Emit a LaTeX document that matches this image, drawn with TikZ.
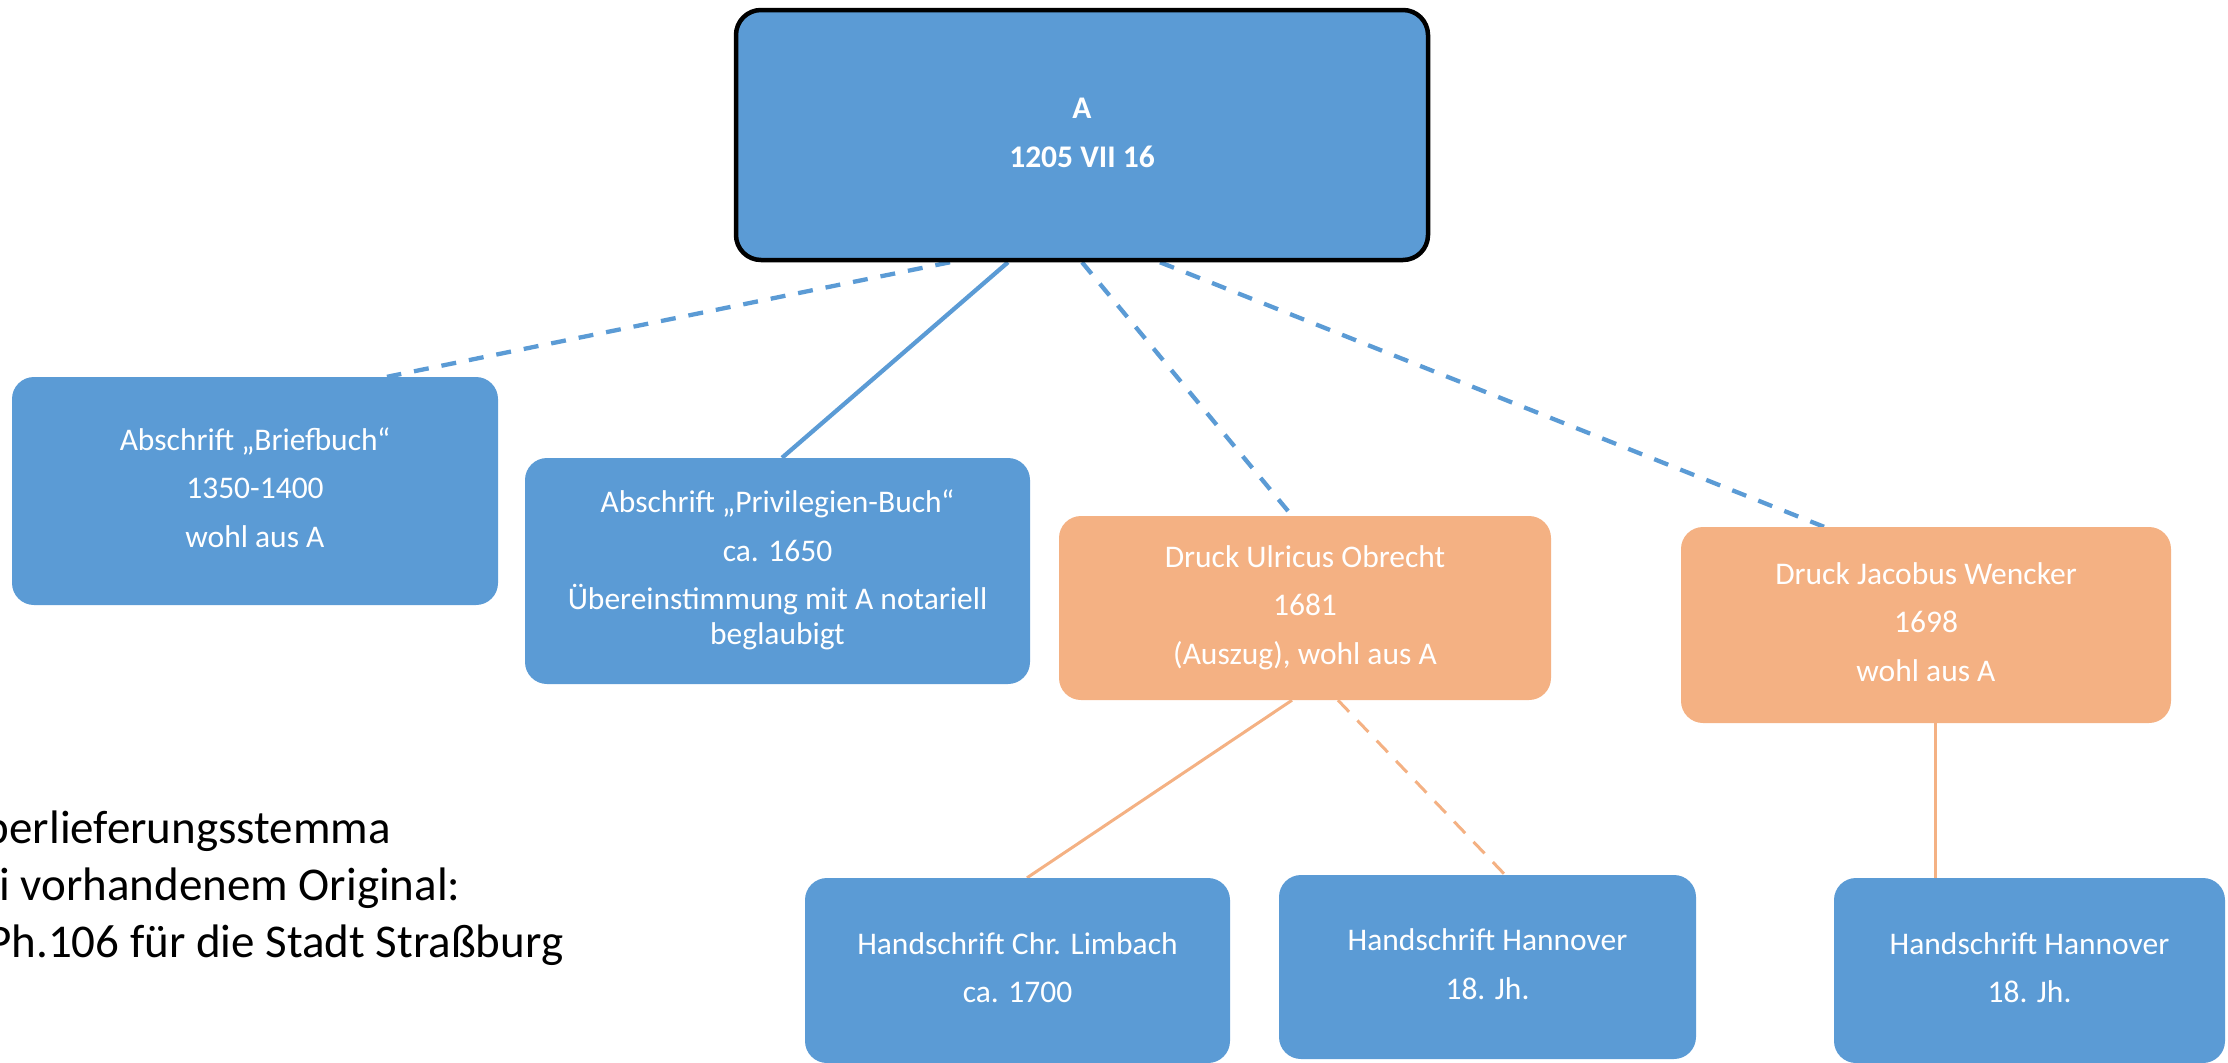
\documentclass[tikz,border=0pt]{standalone}
\usepackage{fontspec}
\setmainfont{Carlito}
\usetikzlibrary{backgrounds}
\definecolor{boxblue}{HTML}{5B9BD5}
\definecolor{boxorange}{HTML}{F4B183}
\newcommand\lstrut{\rule[-7.9pt]{0pt}{31.5pt}}
\begin{document}
\begin{tikzpicture}[x=1pt,y=-1pt,
  box/.style={rounded corners=22pt, inner sep=0pt, align=center, text=white,
    font=\fontsize{31.5pt}{35pt}\selectfont},
  bluebox/.style={box, fill=boxblue},
  orangebox/.style={box, fill=boxorange},
  link/.style={line width=4.3pt, draw=boxblue},
  olink/.style={line width=3pt, draw=boxorange},
  dashedlink/.style={dash pattern=on 15pt off 13pt},
  odashedlink/.style={dash pattern=on 16pt off 12pt},
  lefttext/.style={inner sep=0pt, text=black, font=\fontsize{47pt}{57pt}\selectfont},
]
\useasboundingbox (0,0) rectangle (2228,1063);

% root
\node[bluebox, draw=black, line width=4.5pt, rounded corners=25pt,
      minimum width=692pt, minimum height=250pt,
      font=\fontsize{31.5pt}{35pt}\selectfont\bfseries] (A) at (1082,135)
  {\lstrut A\\[13.5pt]\lstrut 1205 VII 16};

% second level
\node[bluebox, minimum width=486pt, minimum height=228pt] (brief) at (255,491)
  {\lstrut Abschrift „Briefbuch“\\[13.5pt]\lstrut 1350-1400\\[13.5pt]\lstrut wohl aus A};
\node[bluebox, minimum width=505pt, minimum height=226pt] (priv) at (777.5,571)
  {\lstrut Abschrift „Privilegien-Buch“\\[13.5pt]\lstrut ca. 1650\\[13.5pt]\lstrut Übereinstimmung mit A notariell\\\lstrut beglaubigt};
\node[orangebox, minimum width=492pt, minimum height=184pt] (obrecht) at (1305,608)
  {\lstrut Druck Ulricus Obrecht\\[13.5pt]\lstrut 1681\\[13.5pt]\lstrut (Auszug), wohl aus A};
\node[orangebox, minimum width=490pt, minimum height=196pt] (wencker) at (1926,625)
  {\lstrut Druck Jacobus Wencker\\[13.5pt]\lstrut 1698\\[13.5pt]\lstrut wohl aus A};

% third level
\node[bluebox, minimum width=425pt, minimum height=185pt] (limbach) at (1017.5,970.5)
  {\lstrut Handschrift Chr. Limbach\\[13.5pt]\lstrut ca. 1700};
\node[bluebox, minimum width=417pt, minimum height=184pt] (hann1) at (1487.5,967)
  {\lstrut Handschrift Hannover\\[13.5pt]\lstrut 18. Jh.};
\node[bluebox, minimum width=391pt, minimum height=185pt] (hann2) at (2029.5,970.5)
  {\lstrut Handschrift Hannover\\[13.5pt]\lstrut 18. Jh.};

% connectors
\begin{pgfonlayer}{background}
\draw[link, dashedlink] ([xshift=-132pt]A.south) -- ([xshift=132pt]brief.north);
\draw[link] ([xshift=-74pt]A.south) -- ([xshift=4.5pt]priv.north);
\draw[link, dashedlink] (A.south) -- ([xshift=-13pt]obrecht.north);
\draw[link, dashedlink] ([xshift=78pt]A.south) -- ([xshift=-102pt]wencker.north);
\draw[olink] ([xshift=-13pt]obrecht.south) -- ([xshift=9.5pt]limbach.north);
\draw[olink, odashedlink] ([xshift=33pt]obrecht.south) -- ([xshift=17.5pt]hann1.north);
\draw[olink] ([xshift=9pt]wencker.south) -- ([xshift=9pt]wencker.south |- hann2.north);
\end{pgfonlayer}

% caption at left (cut by the left edge, as in the reference)
\node[lefttext, anchor=base west] (cap1) at (-15.3,843) {berlieferungsstemma};
\node[lefttext, anchor=base west] (cap2) at (-1,900) {i vorhandenem Original:};
\node[lefttext, anchor=base west] (cap3) at (-13,957) {Ph.106 für die Stadt Straßburg};
\end{tikzpicture}
\end{document}
